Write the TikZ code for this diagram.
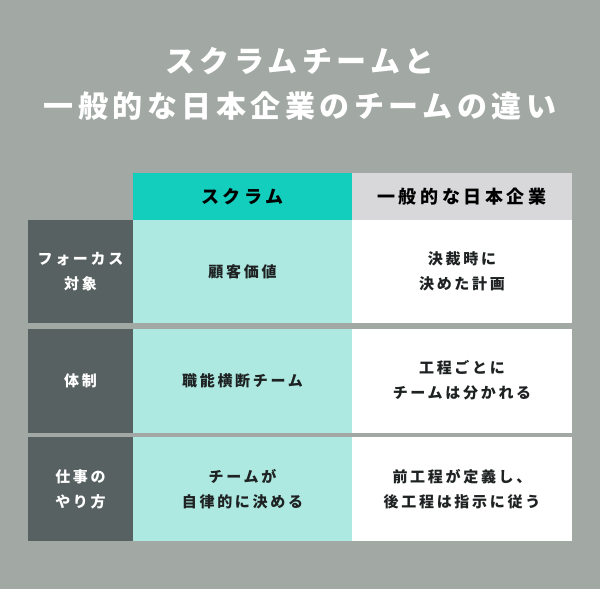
\documentclass[tikz,border=0pt]{standalone}
\usepackage{fontspec}
\usepackage{xcolor}
\usepackage{tikz}
\usetikzlibrary{positioning}
\newfontfamily\jpfont[LetterSpace=15]{Noto Sans CJK JP}
\newfontfamily\jpcell[LetterSpace=18]{Noto Sans CJK JP}
\newfontfamily\jphead[LetterSpace=20]{Noto Sans CJK JP}
\definecolor{bggrey}{HTML}{A2A8A4}
\definecolor{labeldark}{HTML}{586161}
\definecolor{scrumteal}{HTML}{13CDBD}
\definecolor{scrumlight}{HTML}{ADE9E1}
\definecolor{headgrey}{HTML}{D8D8DA}
\definecolor{celltext}{HTML}{1E2222}

\begin{document}
\begin{tikzpicture}[x=1pt, y=-1pt,
        cell/.style={rectangle, inner sep=0pt, outer sep=0pt, align=center, text=celltext,
            font=\jpcell\bfseries\fontsize{15}{25}\selectfont},
        label/.style={cell, fill=labeldark, text=white, minimum width=105, minimum height=104},
        scrum/.style={cell, fill=scrumlight, minimum width=219, minimum height=104},
        japan/.style={cell, fill=white, minimum width=220, minimum height=104},
        head/.style={cell, minimum height=47, text=black,
            font=\jphead\bfseries\fontsize{18}{20}\selectfont}]
        \fill[bggrey] (0,0) rectangle (600,589);
        \useasboundingbox (0,0) rectangle (600,589);
        % title
        \node[align=center, text=white, font=\jpfont\bfseries\fontsize{30}{45}\selectfont] (Title) at (300, 84) {スクラムチームと\\一般的な日本企業のチームの違い};
        % header
        \node[head, fill=scrumteal, minimum width=219] (HeadScrum) at (242.5, 196.5) {スクラム};
        \node[head, fill=headgrey, minimum width=220] (HeadJapan) at (462, 196.5) {一般的な日本企業};
        % rows
        \node[label, minimum height=103] (Focus) at (80.5, 271.5) {フォーカス\\対象};
        \node[scrum, minimum height=103] (FocusScrum) at (242.5, 271.5) {顧客価値};
        \node[japan, minimum height=103] (FocusJapan) at (462, 271.5) {決裁時に\\決めた計画};
        \node[label] (Structure) at (80.5, 380.5) {体制};
        \node[scrum] (StructureScrum) at (242.5, 380.5) {職能横断チーム};
        \node[japan] (StructureJapan) at (462, 380.5) {工程ごとに\\チームは分かれる};
        \node[label] (Work) at (80.5, 489) {仕事の\\やり方};
        \node[scrum] (WorkScrum) at (242.5, 489) {チームが\\自律的に決める};
        \node[japan] (WorkJapan) at (462, 489) {前工程が定義し、\\後工程は指示に従う};
    \end{tikzpicture}
\end{document}
